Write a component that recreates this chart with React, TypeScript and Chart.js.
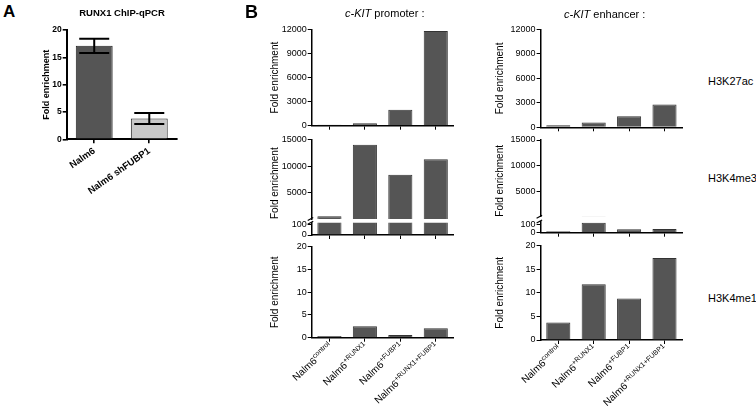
import React, { useEffect, useRef } from 'react';
import { Chart, registerables } from 'chart.js';
Chart.register(...registerables);

const FONT = "'Liberation Sans', Arial, Helvetica, sans-serif";
Chart.defaults.font.family = FONT;
Chart.defaults.color = '#000';

// ---------- Panel A data ----------
const aCategories = ['Nalm6', 'Nalm6 shFUBP1'];
const aValues = [17.1, 3.8];
const aErrLow = [15.8, 2.8];
const aErrHigh = [18.4, 4.8];
const aColors = ['#555555', '#c9c9c9'];
const aTicks = [0, 5, 10, 15, 20];

// ---------- Panel B data ----------
const bBase = 'Nalm6';
const bSuffixes = ['control', '+RUNX1', '+FUBP1', '+RUNX1+FUBP1'];
const promoterK27ac = [120, 300, 2000, 11800];
const enhancerK27ac = [250, 600, 1350, 2800];
const promoterK4me3 = [650, 14000, 8400, 11300];
const enhancerK4me3 = [17, 118, 40, 44];
const promoterK4me1 = [0.4, 2.5, 0.6, 2.1];
const enhancerK4me1 = [3.7, 11.8, 8.8, 17.4];
const k27acTicks = [0, 3000, 6000, 9000, 12000];
const k4me3UpperTicks = [5000, 10000, 15000];
const k4me3LowerTicks = [0, 100];
const k4me1Ticks = [0, 5, 10, 15, 20];
const rowLabels = ['H3K27ac', 'H3K4me3', 'H3K4me1'];

type Box = { x: number; y: number; w: number; h: number };
type Area = { l: number; t: number; r: number; b: number };
type Spec = {
  key: string;
  canvas: Box;
  area: Area;
  labels: string[];
  data: number[];
  colors: string[] | string;
  border: string;
  yMin: number;
  yMax: number;
  yTicks: number[];
  yTitle?: string;
  titleAlign?: 'center' | 'start';
  bold?: boolean;
  xMode: 'none' | 'ticks' | 'native' | 'sup';
  breakTop?: boolean;
  breakBottom?: boolean;
  err?: { low: number[]; high: number[] };
  barPct: number;
  axisWidth: number;
  tickFontSize: number;
  titleFontSize: number;
  rotation?: number;
};

const GREY = '#555555';
const EDGE = '#333333';

const SPECS: Spec[] = [
  {
    key: 'A', canvas: { x: 37, y: 0, w: 150, h: 230 }, area: { l: 66.7, t: 30, r: 176.8, b: 139.3 },
    labels: aCategories, data: aValues, colors: aColors, border: '#222222', yMin: 0, yMax: 20, yTicks: aTicks,
    yTitle: 'Fold enrichment', bold: true, xMode: 'native', rotation: 35, err: { low: aErrLow, high: aErrHigh },
    barPct: 0.67, axisWidth: 2, tickFontSize: 8.5, titleFontSize: 9,
  },
  {
    key: 'pTop', canvas: { x: 265, y: 18, w: 195, h: 118 }, area: { l: 311.7, t: 29.5, r: 453.5, b: 125.7 },
    labels: bSuffixes, data: promoterK27ac, colors: GREY, border: EDGE, yMin: 0, yMax: 12000, yTicks: k27acTicks,
    yTitle: 'Fold enrichment', xMode: 'ticks', barPct: 0.68, axisWidth: 1.5, tickFontSize: 9, titleFontSize: 10,
  },
  {
    key: 'eTop', canvas: { x: 490, y: 18, w: 200, h: 120 }, area: { l: 540.6, t: 29.5, r: 682.2, b: 127.3 },
    labels: bSuffixes, data: enhancerK27ac, colors: GREY, border: EDGE, yMin: 0, yMax: 12000, yTicks: k27acTicks,
    yTitle: 'Fold enrichment', xMode: 'ticks', barPct: 0.68, axisWidth: 1.5, tickFontSize: 9, titleFontSize: 10,
  },
  {
    key: 'pMidUp', canvas: { x: 265, y: 130, w: 195, h: 97 }, area: { l: 311.7, t: 139.5, r: 453.5, b: 219 },
    labels: bSuffixes, data: promoterK4me3, colors: GREY, border: EDGE, yMin: 120, yMax: 15000, yTicks: k4me3UpperTicks,
    yTitle: 'Fold enrichment', titleAlign: 'start', xMode: 'none', breakBottom: true,
    barPct: 0.68, axisWidth: 1.5, tickFontSize: 9, titleFontSize: 10,
  },
  {
    key: 'pMidLow', canvas: { x: 265, y: 212, w: 195, h: 30 }, area: { l: 311.7, t: 222.7, r: 453.5, b: 235 },
    labels: bSuffixes, data: promoterK4me3, colors: GREY, border: EDGE, yMin: 0, yMax: 115, yTicks: k4me3LowerTicks,
    xMode: 'ticks', breakTop: true, barPct: 0.68, axisWidth: 1.5, tickFontSize: 9, titleFontSize: 10,
  },
  {
    key: 'eMidUp', canvas: { x: 490, y: 130, w: 200, h: 95 }, area: { l: 540.6, t: 140, r: 682.2, b: 216.7 },
    labels: bSuffixes, data: enhancerK4me3, colors: GREY, border: EDGE, yMin: 120, yMax: 15000, yTicks: k4me3UpperTicks,
    yTitle: 'Fold enrichment', titleAlign: 'start', xMode: 'none', breakBottom: true,
    barPct: 0.68, axisWidth: 1.5, tickFontSize: 9, titleFontSize: 10,
  },
  {
    key: 'eMidLow', canvas: { x: 490, y: 211, w: 200, h: 30 }, area: { l: 540.6, t: 221.5, r: 682.2, b: 232.7 },
    labels: bSuffixes, data: enhancerK4me3, colors: GREY, border: EDGE, yMin: 0, yMax: 133, yTicks: k4me3LowerTicks,
    xMode: 'ticks', breakTop: true, barPct: 0.68, axisWidth: 1.5, tickFontSize: 9, titleFontSize: 10,
  },
  {
    key: 'pBot', canvas: { x: 265, y: 236, w: 195, h: 170 }, area: { l: 311.7, t: 246.7, r: 453.5, b: 337.7 },
    labels: bSuffixes, data: promoterK4me1, colors: GREY, border: EDGE, yMin: 0, yMax: 20, yTicks: k4me1Ticks,
    yTitle: 'Fold enrichment', xMode: 'sup', barPct: 0.68, axisWidth: 1.5, tickFontSize: 9, titleFontSize: 10,
  },
  {
    key: 'eBot', canvas: { x: 490, y: 236, w: 200, h: 170 }, area: { l: 540.6, t: 245.7, r: 682.2, b: 340 },
    labels: bSuffixes, data: enhancerK4me1, colors: GREY, border: EDGE, yMin: 0, yMax: 20, yTicks: k4me1Ticks,
    yTitle: 'Fold enrichment', xMode: 'sup', barPct: 0.68, axisWidth: 1.5, tickFontSize: 9, titleFontSize: 10,
  },
];

function errorBarPlugin(low: number[], high: number[]) {
  return {
    id: 'errBars',
    afterDatasetsDraw(chart: any) {
      const { ctx } = chart;
      const meta = chart.getDatasetMeta(0);
      const ys = chart.scales.y;
      ctx.save();
      ctx.strokeStyle = '#000';
      ctx.lineWidth = 2;
      meta.data.forEach((bar: any, i: number) => {
        const x = bar.x;
        const y1 = ys.getPixelForValue(low[i]);
        const y2 = ys.getPixelForValue(high[i]);
        const cap = 15;
        ctx.beginPath();
        ctx.moveTo(x, y1); ctx.lineTo(x, y2);
        ctx.moveTo(x - cap, y1); ctx.lineTo(x + cap, y1);
        ctx.moveTo(x - cap, y2); ctx.lineTo(x + cap, y2);
        ctx.stroke();
      });
      ctx.restore();
    },
  };
}

function breakPlugin(top: boolean, bottom: boolean) {
  return {
    id: 'axisBreak',
    afterDraw(chart: any) {
      const { ctx, chartArea } = chart;
      const x = chartArea.left;
      ctx.save();
      ctx.strokeStyle = '#000';
      ctx.lineWidth = 1.2;
      const mark = (y: number) => {
        ctx.beginPath();
        ctx.moveTo(x - 4, y + 1.5);
        ctx.lineTo(x + 1.5, y - 1.5);
        ctx.stroke();
      };
      if (top) mark(chartArea.top);
      if (bottom) mark(chartArea.bottom);
      ctx.restore();
    },
  };
}

function supLabelPlugin(base: string, suffixes: string[]) {
  return {
    id: 'supLabels',
    afterDraw(chart: any) {
      const xs = chart.scales.x;
      const { ctx } = chart;
      const angle = (-43 * Math.PI) / 180;
      suffixes.forEach((sfx, i) => {
        const x = xs.getPixelForTick(i);
        const y = xs.top + 4 + 3;
        ctx.save();
        ctx.translate(x + 1, y);
        ctx.rotate(angle);
        ctx.fillStyle = '#000';
        ctx.textAlign = 'left';
        ctx.textBaseline = 'alphabetic';
        ctx.font = `10px ${FONT}`;
        const wM = ctx.measureText(base).width;
        ctx.font = `7px ${FONT}`;
        const wS = ctx.measureText(sfx).width;
        ctx.fillText(sfx, -wS, -0.5);
        ctx.font = `10px ${FONT}`;
        ctx.fillText(base, -wS - wM, 3.5);
        ctx.restore();
      });
    },
  };
}

function buildConfig(s: Spec): any {
  const L = s.area.l - s.canvas.x;
  const padTop = s.area.t - s.canvas.y;
  const padRight = s.canvas.x + s.canvas.w - s.area.r;
  const bottomSpace = s.canvas.y + s.canvas.h - s.area.b;
  const weight = s.bold ? 'bold' : 'normal';
  const tickLine = s.bold ? 1.6 : 1;
  const plugins: any[] = [];
  if (s.err) plugins.push(errorBarPlugin(s.err.low, s.err.high));
  if (s.breakTop || s.breakBottom) plugins.push(breakPlugin(!!s.breakTop, !!s.breakBottom));
  if (s.xMode === 'sup') plugins.push(supLabelPlugin(bBase, s.labels));

  const xScale: any =
    s.xMode === 'none'
      ? { type: 'category', display: false, offset: true }
      : {
          type: 'category',
          offset: true,
          z: 1,
          grid: { display: true, offset: false, drawOnChartArea: false, drawTicks: true, tickLength: 4, color: '#000', lineWidth: tickLine },
          border: { display: true, color: '#000', width: s.axisWidth },
          ticks:
            s.xMode === 'native'
              ? { display: true, autoSkip: false, maxRotation: s.rotation, minRotation: s.rotation, font: { size: 9.5, weight: 'bold' }, color: '#000', padding: 2 }
              : { display: false },
          afterFit: (sc: any) => { sc.height = bottomSpace; },
        };

  return {
    type: 'bar',
    data: {
      labels: s.labels,
      datasets: [
        {
          data: s.data,
          backgroundColor: s.colors,
          borderColor: s.border,
          borderWidth: 1,
          barPercentage: s.barPct,
          categoryPercentage: 1,
          clip: 0,
        },
      ],
    },
    plugins,
    options: {
      responsive: false,
      maintainAspectRatio: false,
      animation: false,
      events: [],
      layout: { padding: { left: 0, top: padTop, right: padRight, bottom: s.xMode === 'none' ? bottomSpace : 0 } },
      plugins: { legend: { display: false }, tooltip: { enabled: false }, title: { display: false } },
      scales: {
        x: xScale,
        y: {
          type: 'linear',
          min: s.yMin,
          max: s.yMax,
          z: 1,
          afterBuildTicks: (sc: any) => { sc.ticks = s.yTicks.map((v) => ({ value: v })); },
          ticks: { autoSkip: false, font: { size: s.tickFontSize, weight }, color: '#000', padding: 1, callback: (v: any) => String(v) },
          grid: { display: true, drawOnChartArea: false, drawTicks: true, tickLength: 4, color: '#000', lineWidth: tickLine },
          border: { display: true, color: '#000', width: s.axisWidth },
          title: s.yTitle
            ? { display: true, text: s.yTitle, align: s.titleAlign ?? 'center', font: { size: s.titleFontSize, weight }, color: '#000', padding: { top: 4, bottom: 4 } }
            : { display: false },
          afterFit: (sc: any) => { sc.width = L; },
        },
      },
    },
  };
}

const txt = (extra: React.CSSProperties): React.CSSProperties => ({
  position: 'absolute',
  whiteSpace: 'nowrap',
  lineHeight: 1,
  color: '#000',
  fontFamily: FONT,
  ...extra,
});

export default function App() {
  const refs = useRef<(HTMLCanvasElement | null)[]>([]);
  useEffect(() => {
    const charts = SPECS.map((s, i) => new Chart(refs.current[i] as HTMLCanvasElement, buildConfig(s)));
    return () => charts.forEach((c) => c.destroy());
  }, []);

  return (
    <div style={{ position: 'fixed', left: 0, top: 0, width: 756, height: 406, background: '#fff', overflow: 'hidden' }}>
      {SPECS.map((s, i) => (
        <canvas
          key={s.key}
          ref={(el) => { refs.current[i] = el; }}
          width={s.canvas.w}
          height={s.canvas.h}
          style={{ position: 'absolute', left: s.canvas.x, top: s.canvas.y, width: s.canvas.w, height: s.canvas.h }}
        />
      ))}
      <div style={txt({ left: 3, top: 3, fontSize: 17, fontWeight: 'bold' })}>A</div>
      <div style={txt({ left: 122, top: 8, fontSize: 9.5, fontWeight: 'bold', transform: 'translateX(-50%)' })}>RUNX1 ChIP-qPCR</div>
      <div style={txt({ left: 245, top: 3, fontSize: 18, fontWeight: 'bold' })}>B</div>
      <div style={txt({ left: 345, top: 8, fontSize: 11 })}>
        <i>c-KIT</i> promoter :
      </div>
      <div style={txt({ left: 564, top: 9, fontSize: 11 })}>
        <i>c-KIT</i> enhancer :
      </div>
      <div style={txt({ left: 708, top: 76, fontSize: 11 })}>{rowLabels[0]}</div>
      <div style={txt({ left: 708, top: 173, fontSize: 11 })}>{rowLabels[1]}</div>
      <div style={txt({ left: 708, top: 293, fontSize: 11 })}>{rowLabels[2]}</div>
    </div>
  );
}
